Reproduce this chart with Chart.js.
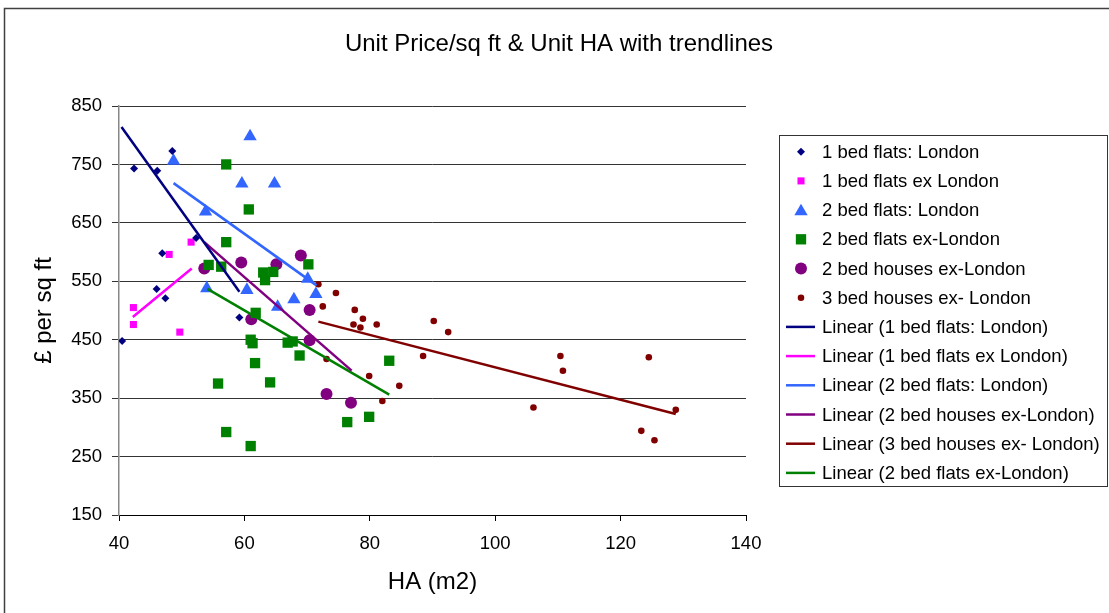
<!DOCTYPE html>
<html lang="en">
<head>
<meta charset="UTF-8">
<title>Unit Price/sq ft & Unit HA with trendlines</title>
<script src="https://cdn.jsdelivr.net/npm/chart.js"></script>
<style>
    body {
        margin: 0;
        background: #ffffff;
    }
    #chartBox {
        width: 1109px;
        height: 613px;
    }
</style>
</head>
<body>

<div id="chartBox">
    <canvas id="haChart" width="1109" height="613"></canvas>
</div>

<script>
// scatter series: HA (m2) and £ per sq ft
const bed1LondonHA    = [42.4, 46.1, 48.5, 52.3, 46.9, 46.0, 47.4, 59.2, 40.5];
const bed1LondonPrice = [743, 739, 773, 624, 598, 537, 521, 488, 448];

const bed1ExLondonHA    = [51.5, 48.0, 42.3, 42.3, 49.7];
const bed1ExLondonPrice = [617, 596, 505, 476, 463];

const bed2LondonHA    = [60.9, 48.7, 59.6, 64.8, 53.8, 54.0, 60.4, 65.3, 67.9, 70.1, 71.4];
const bed2LondonPrice = [798, 756, 717, 717, 669, 538, 535, 506, 519, 554, 528];

const bed2FlatsExHA    = [57.1, 60.7, 57.1, 54.3, 56.3, 63.0, 64.6, 63.3, 70.2, 61.8, 61.0, 61.3,
                          66.9, 67.7, 68.8, 61.7, 64.1, 55.8, 57.1, 61.0, 83.1, 79.9, 76.4];
const bed2FlatsExPrice = [750, 673, 617, 578, 575, 565, 566, 552, 579, 496, 450, 444,
                          445, 447, 423, 410, 377, 375, 292, 268, 414, 318, 309];

const bed2HousesExHA    = [69.0, 59.5, 65.1, 53.6, 70.4, 61.1, 70.4, 73.1, 77.0];
const bed2HousesExPrice = [594, 582, 579, 572, 501, 485, 449, 357, 342];

const bed3HousesExHA    = [71.8, 74.6, 72.5, 77.6, 78.9, 77.4, 78.5, 81.1, 90.2, 92.5, 73.1,
                           88.5, 79.9, 84.7, 82.0, 110.4, 110.8, 106.1, 124.5, 128.8, 123.3, 125.4];
const bed3HousesExPrice = [545, 530, 507, 501, 486, 476, 471, 476, 482, 463, 417,
                           422, 388, 371, 345, 422, 397, 334, 420, 330, 294, 278];

// trendline end points
const trend1LondonHA      = [40.4, 59.2];
const trend1LondonPrice   = [814, 532];
const trend1ExHA          = [42.2, 51.6];
const trend1ExPrice       = [489, 572];
const trend2LondonHA      = [48.7, 71.5];
const trend2LondonPrice   = [718, 543];
const trend2HousesExHA    = [53.6, 77.1];
const trend2HousesExPrice = [617, 397];
const trend3HousesExHA    = [71.8, 128.8];
const trend3HousesExPrice = [481, 323];
const trend2FlatsExHA     = [54.1, 83.1];
const trend2FlatsExPrice  = [537, 356];

const yTicks = [150, 250, 350, 450, 550, 650, 750, 850];
const xTicks = [40, 60, 80, 100, 120, 140];

const FONT = '"Liberation Sans", Arial, sans-serif';

function pairs(xs, ys) {
    return xs.map((x, i) => ({ x: x, y: ys[i] }));
}

function pointSet(label, xs, ys, color, style, radius) {
    return {
        type: 'scatter',
        label: label,
        data: pairs(xs, ys),
        pointStyle: style,
        pointRadius: radius,
        pointHoverRadius: radius,
        backgroundColor: color,
        borderColor: color,
        borderWidth: 0,
        order: 1
    };
}

function trendSet(label, xs, ys, color) {
    return {
        type: 'line',
        label: label,
        data: pairs(xs, ys),
        borderColor: color,
        backgroundColor: color,
        borderWidth: 2.5,
        pointRadius: 0,
        fill: false,
        tension: 0,
        order: 0
    };
}

const NAVY = '#000080', PINK = '#ff00ff', BLUE = '#3366ff',
      GREEN = '#008000', PURPLE = '#800080', MAROON = '#800000';

const datasets = [
    pointSet('1 bed flats: London', bed1LondonHA, bed1LondonPrice, NAVY, 'rectRot', 4),
    pointSet('1 bed flats ex London', bed1ExLondonHA, bed1ExLondonPrice, PINK, 'rect', 5),
    pointSet('2 bed flats: London', bed2LondonHA, bed2LondonPrice, BLUE, 'triangle', 7.7),
    pointSet('2 bed flats ex-London', bed2FlatsExHA, bed2FlatsExPrice, GREEN, 'rect', 7.3),
    pointSet('2 bed houses ex-London', bed2HousesExHA, bed2HousesExPrice, PURPLE, 'circle', 6),
    pointSet('3 bed houses ex- London', bed3HousesExHA, bed3HousesExPrice, MAROON, 'circle', 3.3),
    trendSet('Linear (1 bed flats: London)', trend1LondonHA, trend1LondonPrice, NAVY),
    trendSet('Linear (1 bed flats ex London)', trend1ExHA, trend1ExPrice, PINK),
    trendSet('Linear (2 bed flats: London)', trend2LondonHA, trend2LondonPrice, BLUE),
    trendSet('Linear (2 bed houses ex-London)', trend2HousesExHA, trend2HousesExPrice, PURPLE),
    trendSet('Linear (3 bed houses ex- London)', trend3HousesExHA, trend3HousesExPrice, MAROON),
    trendSet('Linear (2 bed flats ex-London)', trend2FlatsExHA, trend2FlatsExPrice, GREEN)
];

// small marker for the hand-drawn legend
function drawMarker(ctx, style, r, x, y) {
    ctx.beginPath();
    if (style === 'rectRot') {
        ctx.moveTo(x - r, y); ctx.lineTo(x, y - r); ctx.lineTo(x + r, y); ctx.lineTo(x, y + r);
    } else if (style === 'rect') {
        const s = r * Math.SQRT1_2;
        ctx.rect(x - s, y - s, 2 * s, 2 * s);
    } else if (style === 'triangle') {
        const h = r * 0.75;
        ctx.moveTo(x, y - h * 1.1); ctx.lineTo(x + r * 0.866, y + h * 0.9); ctx.lineTo(x - r * 0.866, y + h * 0.9);
    } else {
        ctx.arc(x, y, r, 0, Math.PI * 2);
    }
    ctx.closePath();
    ctx.fill();
}

const framePlugin = {
    id: 'frameAndLegend',
    beforeDraw(chart) {
        const ctx = chart.ctx;
        ctx.save();
        ctx.fillStyle = '#ffffff';
        ctx.fillRect(0, 0, chart.width, chart.height);
        ctx.strokeStyle = '#404040';
        ctx.lineWidth = 1.5;
        ctx.strokeRect(4.5, 8.5, 1200, 700);
        ctx.restore();
    },
    afterDraw(chart) {
        const ctx = chart.ctx;
        ctx.save();
        // title
        ctx.fillStyle = '#000';
        ctx.font = '24px ' + FONT;
        ctx.textAlign = 'center';
        ctx.textBaseline = 'middle';
        ctx.fillText('Unit Price/sq ft & Unit HA with trendlines', 559, 44);

        // legend box
        ctx.strokeStyle = '#333';
        ctx.lineWidth = 1;
        ctx.strokeRect(779.5, 135.5, 328, 351);
        ctx.font = '18.5px ' + FONT;
        ctx.textAlign = 'left';
        chart.data.datasets.forEach((ds, i) => {
            const y = 151.7 + i * 29.2;
            if (ds.type === 'scatter') {
                ctx.fillStyle = ds.backgroundColor;
                drawMarker(ctx, ds.pointStyle, ds.pointRadius, 801, y);
            } else {
                ctx.strokeStyle = ds.borderColor;
                ctx.lineWidth = 2.5;
                ctx.beginPath();
                ctx.moveTo(786, y);
                ctx.lineTo(815, y);
                ctx.stroke();
            }
            ctx.fillStyle = '#000';
            ctx.fillText(ds.label, 822, y + 1);
        });
        ctx.restore();
    }
};

new Chart(document.getElementById('haChart'), {
    type: 'scatter',
    data: { datasets: datasets },
    plugins: [framePlugin],
    options: {
        responsive: false,
        animation: false,
        devicePixelRatio: 1,
        layout: {
            padding: { left: 20, top: 106, right: 363, bottom: 8 }
        },
        plugins: {
            legend: { display: false },
            title: { display: false },
            tooltip: { enabled: false }
        },
        scales: {
            x: {
                type: 'linear',
                min: 40,
                max: 140,
                afterFit: function(scale) { scale.height = 90; },
                afterBuildTicks: function(scale) { scale.ticks = xTicks.map(v => ({ value: v })); },
                ticks: {
                    color: '#000',
                    font: { family: FONT, size: 18.5 },
                    padding: 12,
                    maxRotation: 0,
                    autoSkip: false
                },
                grid: {
                    drawOnChartArea: false,
                    drawTicks: true,
                    tickLength: 6,
                    color: '#000'
                },
                border: { color: '#000', width: 1 },
                title: {
                    display: true,
                    text: 'HA (m2)',
                    color: '#000',
                    font: { family: FONT, size: 24 },
                    padding: { top: 0, bottom: 8 }
                }
            },
            y: {
                type: 'linear',
                min: 150,
                max: 850,
                afterFit: function(scale) { scale.width = 99; },
                afterBuildTicks: function(scale) { scale.ticks = yTicks.map(v => ({ value: v })); },
                ticks: {
                    color: '#000',
                    font: { family: FONT, size: 18.5 },
                    padding: 10,
                    autoSkip: false
                },
                grid: {
                    color: '#333',
                    lineWidth: 1,
                    drawTicks: true,
                    tickLength: 7
                },
                border: { color: '#888', width: 1.5 },
                title: {
                    display: true,
                    text: '£ per sq ft',
                    color: '#000',
                    font: { family: FONT, size: 24 },
                    padding: { top: 10, bottom: 0 }
                }
            }
        }
    }
});
</script>

</body>
</html>
